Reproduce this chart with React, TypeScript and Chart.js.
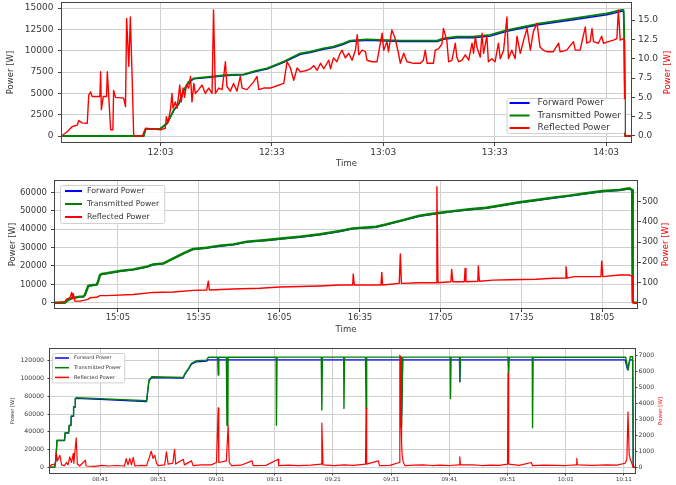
import { useEffect, useRef } from 'react';
import { Chart, registerables } from 'chart.js';

Chart.register(...registerables);

type Pt = [number, number];

const FONT = "'DejaVu Sans', 'Liberation Sans', sans-serif";
const TEXT = '#383838';
const GRID = '#d0d0d0';
const FRAME = '#444444';
const BLUE = '#0000ff';
const GREEN = '#008000';
const RED = '#ff0000';

const SERIES_NAMES = ['Forward Power', 'Transmitted Power', 'Reflected Power'];

// ---------- Run 1 (11:36 – 14:09), reflected power on the right axis in W ----------
const RUN1_TIME_TICKS = ['12:03', '12:33', '13:03', '13:33', '14:03'];
const RUN1_POWER_TICKS = [0, 2500, 5000, 7500, 10000, 12500, 15000];
const RUN1_REFL_TICKS = [0, 2.5, 5, 7.5, 10, 12.5, 15];

const RUN1_FORWARD: Pt[] = [
  [696.6, 0], [718.5, 0], [719.0, 780], [723.0, 850], [724.8, 1450], [726.6, 3000], [728.0, 3780],
  [729.3, 5330], [730.6, 6300], [732.0, 6700], [736.5, 6890], [740.9, 7090], [745.4, 7170],
  [748.6, 7550], [751.7, 7850], [756.2, 8620], [760.7, 9580], [763.4, 9770], [766.9, 10170],
  [769.6, 10360], [772.3, 10750], [774.1, 11060], [778.6, 11220], [787.6, 11060], [797.5, 11060],
  [799.2, 11330], [802.8, 11520], [807.3, 11520], [811.8, 11710], [816.3, 12280], [825.2, 13060],
  [834.2, 13630], [843.2, 14210], [847.2, 14600], [847.7, 14600], [847.9, 11400], [848.1, 0], [849.7, 0],
];

const RUN1_TRANSMITTED: Pt[] = [
  [696.6, 0], [718.5, 0], [719.0, 800], [723.0, 870], [724.8, 1490], [726.6, 3050], [728.0, 3830],
  [729.3, 5390], [730.6, 6360], [732.0, 6760], [736.5, 6950], [740.9, 7150], [745.4, 7230],
  [748.6, 7620], [751.7, 7930], [756.2, 8710], [760.7, 9690], [763.4, 9880], [766.9, 10280],
  [769.6, 10470], [772.3, 10860], [774.1, 11170], [778.6, 11330], [787.6, 11170], [797.5, 11170],
  [799.2, 11450], [802.8, 11640], [807.3, 11640], [811.8, 11840], [816.3, 12420], [825.2, 13210],
  [834.2, 13790], [843.2, 14380], [847.2, 14770], [847.7, 14770], [847.9, 11500], [848.1, 0], [849.7, 0],
];

const RUN1_REFLECTED: Pt[] = [
  [696.6, 0.1], [697.9, 0.55], [699.2, 1.2], [700.6, 1.4], [701.0, 2.0], [701.9, 1.7], [703.3, 1.65],
  [703.7, 5.3], [704.2, 5.7], [704.6, 5.1], [706.7, 5.1], [706.9, 8.3], [707.1, 3.4], [707.6, 5.1],
  [708.5, 5.1], [708.7, 8.3], [709.1, 5.0], [709.6, 0.8], [710.2, 0.8], [710.4, 5.9], [710.9, 5.0],
  [713.1, 4.9], [713.6, 3.8], [713.9, 15.2], [714.5, 9.0], [714.9, 15.4], [715.4, 7.3], [715.8, 0],
  [718.1, 0], [719.0, 1.0], [723.0, 0.8], [724.3, 1.0], [724.6, 2.5], [725.0, 1.7], [725.7, 3.4],
  [726.1, 5.5], [726.4, 3.6], [727.0, 4.4], [727.5, 3.6], [728.2, 6.6], [728.6, 4.4], [729.1, 6.2],
  [729.5, 5.0], [730.0, 6.6], [730.6, 6.2], [731.1, 7.7], [731.5, 4.4], [732.0, 6.8], [732.4, 5.5],
  [733.3, 6.0], [734.2, 6.6], [735.1, 5.5], [736.0, 6.2], [736.9, 5.5], [737.3, 16.3], [737.8, 5.5],
  [738.7, 6.2], [739.6, 6.0], [740.5, 9.6], [740.9, 6.4], [741.8, 5.8], [742.7, 6.8], [743.6, 5.8],
  [744.5, 7.7], [745.0, 6.2], [746.3, 6.0], [748.1, 7.0], [749.0, 7.7], [749.5, 6.0], [750.8, 6.2],
  [752.6, 6.2], [754.4, 6.5], [756.2, 6.8], [757.1, 9.6], [758.0, 8.8], [758.9, 7.2], [759.8, 8.8],
  [760.7, 8.3], [762.5, 8.5], [763.4, 8.7], [764.3, 9.1], [765.2, 8.5], [766.1, 9.4], [767.0, 8.7],
  [768.3, 9.8], [768.8, 8.7], [769.6, 10.1], [770.5, 9.6], [771.4, 10.7], [771.9, 11.1], [772.8, 10.1],
  [773.7, 10.7], [774.6, 9.8], [775.5, 11.1], [776.0, 13.1], [776.4, 10.5], [777.3, 11.1], [778.2, 10.9],
  [778.6, 9.8], [780.0, 9.6], [781.3, 9.6], [782.7, 13.3], [783.1, 11.1], [784.0, 12.2], [784.4, 10.9],
  [785.3, 13.7], [786.2, 12.6], [787.1, 10.7], [787.6, 9.4], [788.5, 10.7], [789.4, 9.6], [791.2, 9.4],
  [793.0, 9.4], [793.8, 9.8], [794.3, 11.1], [794.8, 9.4], [796.5, 9.4], [797.0, 11.1], [797.9, 11.3],
  [798.8, 11.9], [799.2, 13.9], [800.1, 12.4], [800.6, 9.6], [801.5, 9.8], [802.4, 12.0], [802.8, 10.2],
  [803.3, 9.6], [804.2, 9.8], [805.1, 10.5], [806.0, 9.8], [806.9, 12.0], [807.3, 10.7], [807.8, 12.9],
  [808.2, 11.5], [809.1, 10.2], [809.6, 13.3], [810.0, 10.7], [810.9, 12.9], [811.3, 9.6], [812.2, 10.0],
  [813.1, 9.6], [814.0, 12.0], [814.5, 10.0], [815.4, 11.1], [816.3, 15.4], [816.7, 10.0], [817.6, 11.1],
  [818.5, 10.0], [819.0, 12.9], [819.9, 10.7], [820.8, 12.4], [821.7, 13.9], [822.6, 11.1], [823.4, 13.5],
  [824.4, 14.6], [825.2, 11.5], [826.1, 11.1], [827.0, 10.9], [828.8, 10.9], [830.2, 12.0], [830.6, 10.9],
  [832.4, 11.1], [834.2, 12.2], [834.7, 11.1], [836.0, 11.1], [837.4, 14.1], [837.8, 12.0], [838.7, 12.2],
  [839.2, 13.9], [839.6, 12.2], [840.9, 12.0], [841.8, 12.9], [842.3, 12.0], [843.6, 12.2], [845.0, 12.4],
  [845.9, 12.6], [846.3, 16.3], [846.8, 12.4], [847.7, 12.6], [847.9, 12.4], [848.1, 0], [849.7, 0],
];

// ---------- Run 2 (14:41 – 18:18) ----------
const RUN2_TIME_TICKS = ['15:05', '15:35', '16:05', '16:35', '17:05', '17:35', '18:05'];
const RUN2_POWER_TICKS = [0, 10000, 20000, 30000, 40000, 50000, 60000];
const RUN2_REFL_TICKS = [0, 100, 200, 300, 400, 500];

const RUN2_FORWARD: Pt[] = [
  [881.6, 0], [885.3, 0], [885.9, 850], [887.2, 1950], [887.8, 2350], [890.9, 3250], [892.1, 3250],
  [892.7, 4150], [893.4, 6800], [894.0, 9100], [895.8, 9500], [897.1, 9700], [897.7, 11700],
  [898.3, 14800], [898.9, 15400], [900.8, 15800], [905.7, 17000], [910.7, 17900], [915.7, 19400],
  [918.1, 20600], [921.9, 21200], [925.6, 23900], [929.3, 26600], [933.0, 29000], [938.0, 29700],
  [942.9, 30700], [947.9, 31400], [952.9, 32900], [960.3, 33800], [966.5, 34700], [972.7, 35600],
  [980.1, 36900], [987.6, 38700], [992.3, 40100], [1001.0, 41000], [1004.7, 42300], [1010.9, 44600],
  [1017.1, 47000], [1023.3, 48300], [1029.5, 49500], [1035.7, 50500], [1041.9, 51300], [1048.1, 52800],
  [1054.2, 54300], [1060.5, 55500], [1066.7, 56800], [1072.8, 57900], [1079.0, 59200], [1085.3, 60400],
  [1091.4, 61000], [1095.2, 61900], [1096.2, 61000], [1096.4, 400], [1096.8, 0], [1098.0, 0],
];

const RUN2_TRANSMITTED: Pt[] = [
  [881.6, 0], [885.3, 0], [885.9, 900], [887.2, 2000], [887.8, 2400], [890.9, 3300], [892.1, 3300],
  [892.7, 4200], [893.4, 6900], [894.0, 9200], [895.8, 9600], [897.1, 9800], [897.7, 11800],
  [898.3, 15000], [898.9, 15600], [900.8, 16000], [905.7, 17200], [910.7, 18100], [915.7, 19600],
  [918.1, 20800], [921.9, 21400], [925.6, 24100], [929.3, 26800], [933.0, 29200], [938.0, 29900],
  [942.9, 31000], [947.9, 31700], [952.9, 33200], [960.3, 34100], [966.5, 35000], [972.7, 35900],
  [980.1, 37200], [987.6, 39000], [992.3, 40400], [1001.0, 41300], [1004.7, 42600], [1010.9, 44900],
  [1017.1, 47300], [1023.3, 48600], [1029.5, 49800], [1035.7, 50800], [1041.9, 51600], [1048.1, 53100],
  [1054.2, 54600], [1060.5, 55800], [1066.7, 57100], [1072.8, 58200], [1079.0, 59500], [1085.3, 60700],
  [1091.4, 61300], [1095.2, 62200], [1096.2, 61300], [1096.4, 500], [1096.8, 0], [1098.0, 0],
];

const RUN2_REFLECTED: Pt[] = [
  [881.6, 0], [885.3, 5], [885.9, 18], [887.2, 25], [887.8, 51], [888.2, 22], [888.4, 45], [889.0, 8],
  [890.9, 8], [892.7, 13], [894.0, 18], [894.6, 25], [897.1, 27], [898.3, 35], [900.8, 35], [910.7, 41],
  [918.1, 51], [925.6, 53], [933.0, 61], [938.0, 63], [938.6, 107], [939.0, 63], [947.9, 68], [957.8, 72],
  [965.2, 78], [972.7, 80], [980.1, 83], [987.6, 88], [992.3, 88], [992.5, 142], [992.9, 88], [998.5, 88],
  [1002.8, 88], [1003.1, 150], [1003.4, 88], [1009.6, 96], [1010.0, 241], [1010.4, 96], [1017.1, 99],
  [1023.3, 99], [1023.6, 574], [1024.0, 99], [1028.8, 104], [1029.1, 165], [1029.5, 104], [1033.8, 104],
  [1034.1, 170], [1034.4, 104], [1038.8, 106], [1039.0, 182], [1039.4, 106], [1044.4, 112], [1050.5, 114],
  [1060.5, 116], [1066.7, 121], [1071.4, 122], [1071.6, 178], [1072.0, 122], [1074.7, 129], [1079.0, 129],
  [1084.6, 129], [1084.9, 206], [1085.3, 129], [1091.4, 137], [1095.2, 137], [1096.2, 132], [1096.4, 0],
  [1098.0, 0],
];

// ---------- Run 3 (08:32 – 10:13) ----------
const RUN3_TIME_TICKS = ['08:41', '08:51', '09:01', '09:11', '09:21', '09:31', '09:41', '09:51', '10:01', '10:11'];
const RUN3_POWER_TICKS = [0, 20000, 40000, 60000, 80000, 100000, 120000];
const RUN3_REFL_TICKS = [0, 1000, 2000, 3000, 4000, 5000, 6000, 7000];

const RUN3_FORWARD: Pt[] = [
  [512.4, 0], [513.2, 0], [513.4, 7500], [513.6, 30000], [514.9, 30000], [515.0, 38500], [515.6, 38500],
  [515.7, 46900], [516.0, 46900], [516.05, 57400], [516.4, 57400], [516.45, 67600], [516.7, 67600],
  [516.75, 77000], [516.9, 77600], [521.0, 76500], [529.0, 74000], [529.2, 86000], [529.4, 97300],
  [529.9, 101000], [535.3, 100500], [535.6, 104800], [536.2, 110400], [536.7, 116000], [537.6, 118800],
  [539.3, 119500], [539.6, 121000], [572.7, 121000], [572.8, 56800], [573.0, 121000], [582.75, 121000],
  [582.8, 96300], [582.9, 121000], [611.2, 121000], [611.6, 110000], [612.0, 121000], [612.5, 121000],
  [612.6, 0], [612.9, 0],
];

const RUN3_TRANSMITTED: Pt[] = [
  [512.4, 0], [513.2, 0], [513.4, 8000], [513.6, 30500], [514.9, 30500], [515.0, 39000], [515.6, 39000],
  [515.7, 47400], [516.0, 47400], [516.05, 57900], [516.4, 57900], [516.45, 68100], [516.7, 68100],
  [516.75, 77500], [516.9, 78300], [521.0, 77300], [529.0, 75000], [529.2, 86900], [529.4, 98200],
  [529.9, 101900], [535.3, 101300], [535.6, 105800], [536.2, 111400], [536.7, 117100], [537.6, 120000],
  [539.3, 120700], [539.6, 123900], [541.2, 123900], [541.3, 103900], [541.4, 123900], [542.7, 123900],
  [542.8, 47400], [542.95, 47400], [543.0, 123900], [551.25, 124000], [551.3, 47400], [551.4, 124000],
  [559.0, 124000], [559.1, 64400], [559.2, 124000], [562.85, 124000], [562.9, 66300], [563.0, 124000],
  [566.6, 124000], [566.7, 66300], [566.8, 124000], [572.7, 124000], [572.8, 47400], [573.0, 124000],
  [581.15, 124000], [581.2, 77500], [581.3, 124000], [582.75, 124000], [582.8, 96300], [582.9, 124000],
  [591.1, 124000], [591.2, 105800], [591.3, 124000], [595.25, 124000], [595.3, 44400], [595.4, 124000],
  [611.3, 123900], [611.7, 109500], [612.1, 124500], [612.5, 124500], [612.6, 0], [612.9, 0],
];

const RUN3_REFLECTED: Pt[] = [
  [512.4, 50], [512.6, 150], [513.3, 200], [513.5, 850], [513.7, 400], [514.1, 750], [514.4, 150],
  [514.9, 100], [515.2, 300], [515.5, 150], [515.8, 650], [516.1, 300], [516.4, 850], [516.5, 250],
  [516.9, 1830], [517.1, 200], [517.5, 80], [518.5, 440], [518.6, 80], [520.1, 60], [521.3, 120],
  [522.4, 80], [523.8, 110], [525.2, 80], [525.5, 540], [525.8, 150], [526.1, 560], [526.4, 150],
  [526.7, 620], [527.0, 80], [528.0, 120], [529.0, 100], [529.2, 350], [529.5, 650], [529.8, 1000],
  [530.1, 550], [530.4, 750], [530.7, 250], [531.0, 100], [532.1, 150], [532.4, 960], [532.7, 200],
  [533.5, 250], [533.8, 1120], [534.0, 200], [535.3, 500], [535.5, 150], [536.7, 400], [537.0, 100],
  [538.4, 150], [540.1, 150], [541.0, 300], [541.3, 3700], [541.4, 300], [542.7, 400], [543.0, 2600],
  [543.2, 300], [543.6, 100], [545.2, 130], [547.1, 400], [547.3, 100], [549.5, 120], [551.6, 500],
  [551.7, 100], [553.4, 130], [555.0, 100], [557.2, 140], [559.0, 200], [559.1, 2750], [559.3, 150],
  [561.3, 100], [562.9, 150], [564.5, 120], [566.6, 200], [566.7, 3670], [566.8, 200], [568.8, 400],
  [569.0, 100], [570.8, 120], [572.4, 300], [572.5, 7000], [572.6, 2500], [572.65, 6900], [572.7, 3000],
  [572.8, 1500], [572.9, 750], [573.1, 300], [573.4, 100], [575.0, 140], [576.5, 150], [578.0, 110],
  [579.4, 130], [581.0, 110], [582.7, 150], [582.8, 650], [582.9, 150], [585.1, 150], [586.6, 110],
  [588.0, 130], [589.6, 120], [591.0, 200], [591.1, 5850], [591.2, 200], [593.0, 120], [595.1, 300],
  [595.3, 100], [597.2, 140], [599.4, 120], [601.0, 110], [602.8, 150], [602.9, 550], [603.0, 150],
  [605.5, 120], [608.0, 150], [609.8, 130], [611.2, 250], [611.5, 500], [611.7, 3450], [611.9, 800],
  [612.1, 500], [612.4, 200], [612.6, 0], [612.9, 0],
];

const toMinutes = (s: string) => {
  const [h, m] = s.split(':').map(Number);
  return h * 60 + m;
};

const clock = (v: number) => {
  const h = Math.floor(v / 60);
  const m = Math.round(v - h * 60);
  return `${String(h).padStart(2, '0')}:${String(m).padStart(2, '0')}`;
};

const points = (pts: Pt[]) => pts.map(([x, y]) => ({ x, y }));

// Outer frame around the plotting area (all four sides).
const framePlugin = {
  id: 'frame',
  afterDatasetsDraw(chart: any) {
    const { ctx, chartArea: a } = chart;
    ctx.save();
    ctx.strokeStyle = FRAME;
    ctx.lineWidth = 1;
    ctx.strokeRect(a.left - 0.5, a.top - 0.5, a.right - a.left + 1, a.bottom - a.top + 1);
    ctx.restore();
  },
};

// Legend drawn inside the plotting area, in a translucent rounded box.
const boxLegendPlugin = {
  id: 'boxLegend',
  afterDatasetsDraw(chart: any, _args: any, o: any) {
    const { ctx, chartArea: a } = chart;
    const sets = chart.data.datasets;
    ctx.save();
    ctx.font = `${o.size}px ${FONT}`;
    const textW = Math.max(...sets.map((d: any) => ctx.measureText(d.label).width));
    const w = o.padX * 2 + o.sample + o.gap + textW;
    const h = o.padY * 2 + o.rowH * (sets.length - 1);
    const x = o.corner === 'lower right' ? a.right - o.dx - w : a.left + o.dx;
    const y = o.corner === 'lower right' ? a.bottom - o.dy - h : a.top + o.dy;
    ctx.beginPath();
    (ctx as any).roundRect(x + 0.5, y + 0.5, w, h, 2);
    ctx.fillStyle = 'rgba(255,255,255,0.85)';
    ctx.fill();
    ctx.strokeStyle = '#d0d0d0';
    ctx.lineWidth = 1;
    ctx.stroke();
    sets.forEach((d: any, i: number) => {
      const cy = y + o.padY + o.rowH * i;
      ctx.strokeStyle = d.borderColor;
      ctx.lineWidth = o.lineWidth;
      ctx.beginPath();
      ctx.moveTo(x + o.padX, cy);
      ctx.lineTo(x + o.padX + o.sample, cy);
      ctx.stroke();
      ctx.fillStyle = TEXT;
      ctx.textAlign = 'left';
      ctx.textBaseline = 'middle';
      ctx.fillText(d.label, x + o.padX + o.sample + o.gap, cy);
    });
    ctx.restore();
  },
};

// Title of the right-hand axis, reading bottom to top.
const rightTitlePlugin = {
  id: 'rightTitle',
  afterDraw(chart: any, _args: any, o: any) {
    const { ctx, chartArea: a } = chart;
    ctx.save();
    ctx.translate(o.x, (a.top + a.bottom) / 2);
    ctx.rotate(-Math.PI / 2);
    ctx.font = `${o.size}px ${FONT}`;
    ctx.fillStyle = RED;
    ctx.textAlign = 'center';
    ctx.textBaseline = 'middle';
    ctx.fillText(o.text, 0, 0);
    ctx.restore();
  },
};

interface Panel {
  top: number;
  height: number;
  padTop: number;
  leftW: number;
  rightW: number;
  xH: number;
  xRange: [number, number];
  xTicks: string[];
  yRange: [number, number];
  yTicks: number[];
  y1Range: [number, number];
  y1Ticks: number[];
  y1Digits: number;
  forward: Pt[];
  transmitted: Pt[];
  reflected: Pt[];
  lineW: number;
  greenW: number;
  tickFont: number;
  xTickFont: number;
  titleFont: number;
  xTitle: boolean;
  leftTitleX: number;
  rightTitleX: number;
  rightTitleFont: number;
  tickLen: number;
  yPad: number;
  y1Pad: number;
  xPad: number;
  legend: any;
}

const PANELS: Panel[] = [
  {
    top: 0, height: 170, padTop: 3, leftW: 62, rightW: 45, xH: 28,
    xRange: [696.5, 849.7], xTicks: RUN1_TIME_TICKS,
    yRange: [-703, 15586], yTicks: RUN1_POWER_TICKS,
    y1Range: [-0.776, 17.2], y1Ticks: RUN1_REFL_TICKS, y1Digits: 1,
    forward: RUN1_FORWARD, transmitted: RUN1_TRANSMITTED, reflected: RUN1_REFLECTED,
    lineW: 1.4, greenW: 1.8, tickFont: 9, xTickFont: 9, titleFont: 8.5, xTitle: true,
    leftTitleX: 11, rightTitleX: 668, rightTitleFont: 8.5, tickLen: 4, yPad: 4.5, y1Pad: 3, xPad: 1,
    legend: { corner: 'lower right', dx: 7, dy: 9, size: 9, padX: 3, padY: 5, rowH: 12.5, sample: 20, gap: 8, lineWidth: 2 },
  },
  {
    top: 170, height: 166, padTop: 11, leftW: 55, rightW: 39, xH: 28,
    xRange: [881.6, 1098.0], xTicks: RUN2_TIME_TICKS,
    yRange: [-2880, 66140], yTicks: RUN2_POWER_TICKS,
    y1Range: [-26, 602], y1Ticks: RUN2_REFL_TICKS, y1Digits: 0,
    forward: RUN2_FORWARD, transmitted: RUN2_TRANSMITTED, reflected: RUN2_REFLECTED,
    lineW: 1.4, greenW: 2.4, tickFont: 8.5, xTickFont: 8.5, titleFont: 8.5, xTitle: true,
    leftTitleX: 13, rightTitleX: 666, rightTitleFont: 8.5, tickLen: 4, yPad: 4, y1Pad: 1, xPad: 1,
    legend: { corner: 'upper left', dx: 5, dy: 4, size: 7.8, padX: 5, padY: 6, rowH: 13, sample: 17, gap: 5, lineWidth: 2 },
  },
  {
    top: 340, height: 145, padTop: 9, leftW: 50, rightW: 41, xH: 12,
    xRange: [512.4, 612.9], xTicks: RUN3_TIME_TICKS,
    yRange: [-6430, 133200], yTicks: RUN3_POWER_TICKS,
    y1Range: [-356, 7375], y1Ticks: RUN3_REFL_TICKS, y1Digits: 0,
    forward: RUN3_FORWARD, transmitted: RUN3_TRANSMITTED, reflected: RUN3_REFLECTED,
    lineW: 1.2, greenW: 1.4, tickFont: 6.2, xTickFont: 5.5, titleFont: 5.2, xTitle: false,
    leftTitleX: 13, rightTitleX: 661, rightTitleFont: 5.5, tickLen: 2.5, yPad: 3.5, y1Pad: 1, xPad: 1,
    legend: { corner: 'upper left', dx: 2, dy: 4, size: 5.1, padX: 3, padY: 5, rowH: 9.7, sample: 14, gap: 5, lineWidth: 1.5 },
  },
];

function makeConfig(p: Panel): any {
  const font = (size: number) => ({ family: FONT, size });
  const line = (label: string, color: string, data: Pt[], axis: string, order: number, width: number) => ({
    label,
    data: points(data),
    borderColor: color,
    backgroundColor: color,
    borderWidth: width,
    pointRadius: 0,
    tension: 0,
    borderJoinStyle: 'round',
    fill: false,
    yAxisID: axis,
    order,
  });
  return {
    type: 'line',
    data: {
      datasets: [
        line(SERIES_NAMES[0], BLUE, p.forward, 'y', 2, p.lineW),
        line(SERIES_NAMES[1], GREEN, p.transmitted, 'y', 1, p.greenW),
        line(SERIES_NAMES[2], RED, p.reflected, 'y1', 0, p.lineW),
      ],
    },
    options: {
      responsive: false,
      animation: false,
      parsing: false,
      normalized: true,
      events: [],
      layout: { padding: { top: p.padTop, left: 0, right: 0, bottom: 0 } },
      plugins: {
        legend: { display: false },
        tooltip: { enabled: false },
        boxLegend: p.legend,
        rightTitle: { text: 'Power [W]', x: p.rightTitleX, size: p.rightTitleFont },
      },
      scales: {
        x: {
          type: 'linear',
          min: p.xRange[0],
          max: p.xRange[1],
          afterBuildTicks: (s: any) => {
            s.ticks = p.xTicks.map((t) => ({ value: toMinutes(t) }));
          },
          afterFit: (s: any) => {
            s.height = p.xH;
            s.paddingLeft = 0;
            s.paddingRight = 0;
          },
          ticks: {
            callback: (v: number) => clock(v),
            font: font(p.xTickFont),
            color: TEXT,
            padding: p.xPad,
            maxRotation: 0,
            autoSkip: false,
          },
          grid: { color: GRID, tickColor: FRAME, tickLength: p.tickLen, lineWidth: 1 },
          border: { display: false },
          title: {
            display: p.xTitle,
            text: 'Time',
            font: font(p.titleFont),
            color: TEXT,
            padding: { top: 0, bottom: 1.6 },
          },
        },
        y: {
          type: 'linear',
          position: 'left',
          min: p.yRange[0],
          max: p.yRange[1],
          afterBuildTicks: (s: any) => {
            s.ticks = p.yTicks.map((v) => ({ value: v }));
          },
          afterFit: (s: any) => {
            s.width = p.leftW;
            s.paddingTop = 0;
            s.paddingBottom = 0;
          },
          ticks: { callback: (v: number) => String(v), font: font(p.tickFont), color: TEXT, padding: p.yPad },
          grid: { color: GRID, tickColor: FRAME, tickLength: p.tickLen, lineWidth: 1 },
          border: { display: false },
          title: {
            display: true,
            text: 'Power [W]',
            font: font(p.titleFont),
            color: TEXT,
            padding: { top: p.leftTitleX - (p.titleFont * 1.2) / 2, bottom: 0 },
          },
        },
        y1: {
          type: 'linear',
          position: 'right',
          min: p.y1Range[0],
          max: p.y1Range[1],
          afterBuildTicks: (s: any) => {
            s.ticks = p.y1Ticks.map((v) => ({ value: v }));
          },
          afterFit: (s: any) => {
            s.width = p.rightW;
            s.paddingTop = 0;
            s.paddingBottom = 0;
          },
          ticks: {
            callback: (v: number) => v.toFixed(p.y1Digits),
            font: font(p.tickFont),
            color: TEXT,
            padding: p.y1Pad,
          },
          grid: { drawOnChartArea: false, tickColor: FRAME, tickLength: p.tickLen },
          border: { display: false },
        },
      },
    },
    plugins: [framePlugin, boxLegendPlugin, rightTitlePlugin],
  };
}

function PanelChart({ panel }: { panel: Panel }) {
  const ref = useRef<HTMLCanvasElement | null>(null);
  useEffect(() => {
    if (!ref.current) return;
    const chart = new Chart(ref.current, makeConfig(panel));
    return () => chart.destroy();
  }, [panel]);
  return (
    <canvas
      ref={ref}
      width={676}
      height={panel.height}
      style={{ position: 'absolute', left: 0, top: panel.top, width: 676, height: panel.height }}
    />
  );
}

export default function App() {
  return (
    <div style={{ position: 'absolute', left: 0, top: 0, width: 676, height: 485, background: '#ffffff', overflow: 'hidden' }}>
      {PANELS.map((p, i) => (
        <PanelChart key={i} panel={p} />
      ))}
    </div>
  );
}
